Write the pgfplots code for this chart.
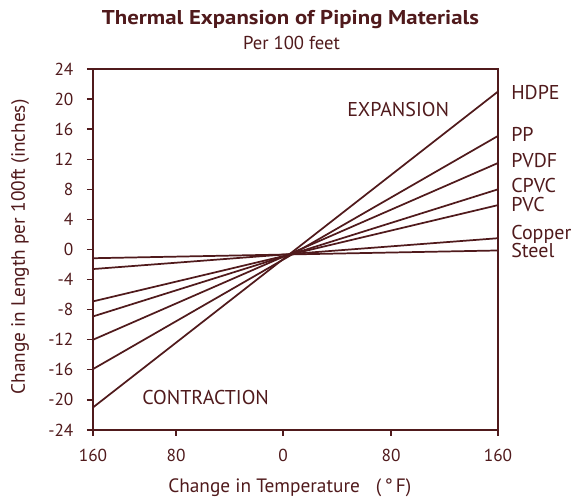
\documentclass[border=0pt]{standalone}
\usepackage{fontspec}
\setmainfont{PT Sans}
\usepackage{graphicx}
\usepackage{pgfplots}
\pgfplotsset{compat=1.18}
\definecolor{maroon}{RGB}{80,26,28}
\begin{document}
\begin{tikzpicture}
\useasboundingbox (-69.75pt,-51.75pt) rectangle (358.5pt,322.5pt);
\begin{axis}[
  at={(0pt,0pt)}, anchor=south west,
  scale only axis,
  width=303.75pt, height=270.75pt,
  xmin=0, xmax=405, ymin=-24, ymax=24,
  axis line style={maroon, line width=1pt},
  xtick={0,83,190,298,405},
  xticklabels={160,80,0,80,160},
  ytick={-24,-20,...,24},
  tick style={maroon, line width=1pt},
  tick align=outside,
  major tick length=4.5pt,
  xtick pos=bottom, ytick pos=left,
  /pgf/number format/assume math mode=true,
  tick label style={font=\fontsize{13}{15}\selectfont, text=maroon, inner sep=0pt},
  yticklabel style={anchor=east, xshift=-10pt},
  xticklabel style={anchor=north, yshift=-9.75pt},
  clip=false,
]
\pgfplotstableread{
x steel copper pvc cpvc pvdf pp hdpe
0 -1.16 -2.6 -6.9 -8.9 -12.0 -15.9 -21.0
405 -0.13 1.5 5.9 8.0 11.5 15.1 21.0
}\data
\foreach \s in {steel,copper,pvc,cpvc,pvdf,pp,hdpe}{
  \addplot[maroon, line width=1.3pt, no marks] table[x=x, y=\s] {\data};
}
\end{axis}
\tikzset{lab/.style={font=\fontsize{15}{17}\selectfont, text=maroon, inner sep=0pt}}
% title
\node[anchor=base, text=maroon, inner sep=0pt] at (148.1pt,303.75pt)
  {\scalebox{1.14}[1]{\fontsize{15}{18}\selectfont\bfseries Thermal Expansion of Piping Materials}};
\node[anchor=base, text=maroon, inner sep=0pt, font=\fontsize{14}{16}\selectfont] at (148.9pt,285pt) {Per 100 feet};
% axis labels
\node[rotate=90, text=maroon, inner sep=0pt, font=\fontsize{14.5}{16}\selectfont] at (-54.75pt,137.25pt) {Change in Length per 100ft (inches)};
\node[anchor=base west, text=maroon, inner sep=0pt, font=\fontsize{14.5}{16}\selectfont] at (56.25pt,-47.25pt) {Change in Temperature\hspace{12pt}(\,°\,F)};
% series labels
\node[lab, anchor=base west] at (313.5pt,247.5pt) {HDPE};
\node[lab, anchor=base west] at (313.5pt,216pt) {PP};
\node[lab, anchor=base west] at (313.5pt,196.5pt) {PVDF};
\node[lab, anchor=base west] at (313.5pt,177.75pt) {CPVC};
\node[lab, anchor=base west] at (313.5pt,163.5pt) {PVC};
\node[lab, anchor=base west] at (313.5pt,142.5pt) {Copper};
\node[lab, anchor=base west] at (313.5pt,129pt) {Steel};
\node[lab, anchor=base west] at (190.5pt,234.75pt) {EXPANSION};
\node[lab, anchor=base west] at (36.75pt,18.75pt) {CONTRACTION};
\end{tikzpicture}
\end{document}
